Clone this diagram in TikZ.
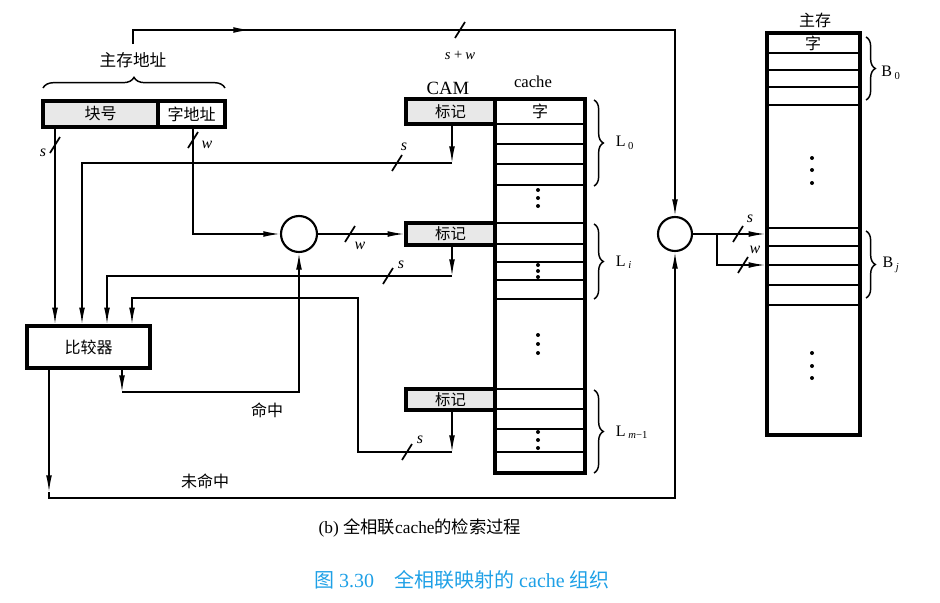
\documentclass[tikz,border=0pt]{standalone}
\usepackage{fontspec}
\setmainfont{Liberation Serif}
\newfontfamily\cjk{Noto Sans CJK SC}
\usetikzlibrary{arrows.meta,decorations.pathreplacing}
\definecolor{capblue}{RGB}{30,160,230}
\newcommand\busmark[2]{\draw[line width=1.3pt] (#1-5,#2+8) -- (#1+5,#2-8);}
\begin{document}
\begin{tikzpicture}[x=0.75pt,y=-0.75pt,line width=1.1pt,
  arr/.style={-{Latex[length=12.5pt,width=4.4pt]}},
  thickbox/.style={draw,line width=2.6pt,inner sep=0pt},
  zh/.style={font=\cjk\fontsize{12}{12}\selectfont},
  tagbox/.style={thickbox,fill=gray!18,minimum width=66.75pt,font=\cjk\fontsize{11.5}{11.5}\selectfont},
  lbl/.style={font=\fontsize{12}{12}\selectfont\itshape},
  brlbl/.style={font=\fontsize{12}{12}\selectfont},
  br/.style={decorate,decoration={brace,amplitude=7pt},line width=1.1pt},
  dot/.style={fill=black}]
\useasboundingbox (0,0) rectangle (940,603);

% address register
\node[thickbox,fill=gray!18,minimum width=86.25pt,minimum height=19.5pt,zh] (blk) at (100.5,114) {块号};
\node[thickbox,minimum width=50.25pt,minimum height=19.5pt,zh] (wd) at (191.5,114) {字地址};
\draw[br,decoration={amplitude=8pt}] (43,88) -- (225,88);
\node[font=\cjk\fontsize{12.5}{12.5}\selectfont] (ma) at (133,60) {主存地址};

% comparator and circles
\node[thickbox,minimum width=92.25pt,minimum height=31.5pt,zh] (cmp) at (88.5,347) {比较器};
\node[draw,circle,line width=1.6pt,minimum size=27pt,inner sep=0pt] (c1) at (299,234) {};
\node[draw,circle,line width=1.6pt,minimum size=25.5pt,inner sep=0pt] (c2) at (675,234) {};

% cache column
\node[thickbox,minimum width=67.5pt,minimum height=280.5pt] (cache) at (540,286) {};
\foreach \y in {124,144,164,185,223,244,262,280,299,389,409,429,452}
  \draw[line width=2pt] (495,\y) -- (585,\y);
\node[zh] (w0) at (540,111.5) {字};
\foreach \y in {190,198,206,265,271,277,335,344,353,432,440,448}
  \fill (538,\y) circle (1.5pt);
\node[tagbox,minimum height=18.75pt] (tag0) at (450.5,111.5) {标记};
\node[tagbox,minimum height=16.5pt] (tagi) at (450.5,234) {标记};
\node[tagbox,minimum height=15.75pt] (tagm) at (450.5,399.5) {标记};
\node[font=\fontsize{14}{14}\selectfont] (cam) at (448,88) {CAM};
\node[font=\fontsize{12.5}{12.5}\selectfont] (cl) at (533,82) {cache};

% cache braces
\draw[br] (594,100) -- (594,186);
\node[brlbl] (l0) at (625,143) {L\,\textsubscript{0}};
\draw[br] (594,224) -- (594,299);
\node[brlbl] (li) at (624,262) {L\,\textsubscript{\textit{i}}};
\draw[br] (594,390) -- (594,473);
\node[brlbl] (lm) at (632,432) {L\,\textsubscript{\textit{m}−1}};

% main memory
\node[thickbox,minimum width=69.75pt,minimum height=301.5pt] (mem) at (813.5,234) {};
\foreach \y in {53,70,87,105,228,246,265,285,305}
  \draw[line width=2pt] (767,\y) -- (860,\y);
\node[zh] (mw0) at (813,43) {字};
\node[zh] (mt) at (815,20) {主存};
\foreach \y in {158,170,183,353,366,378}
  \fill (812,\y) circle (1.5pt);
\draw[br] (866,37) -- (866,100);
\node[brlbl] (b0) at (891,73) {B\,\textsubscript{0}};
\draw[br] (866,231) -- (866,298);
\node[brlbl] (bj) at (891,265) {B\,\textsubscript{\textit{j}}};

% helper coordinates
\coordinate (xA) at (55,0);
\coordinate (xB) at (82,0);
\coordinate (xC) at (107,0);
\coordinate (xD) at (132,0);
\coordinate (xT) at (452,0);
\coordinate (xW) at (193,0);
\coordinate (xH) at (122,0);
\coordinate (xM) at (49,0);
\coordinate (xR) at (358,0);
\coordinate (xJ) at (717,0);
\coordinate (y2) at (0,163);
\coordinate (y3) at (0,276);
\coordinate (y4) at (0,452);
\coordinate (y4b) at (0,298);
\coordinate (yH) at (0,392);
\coordinate (yMa) at (0,492);
\coordinate (yM) at (0,498);
\coordinate (yJ) at (0,265);
\coordinate (tp) at (133,44);
\coordinate (tc) at (133,30);
\coordinate (tr) at (675,30);

% top s+w line
\draw[arr] (tp) -- (tc) -- (tr) -- (c2.north);
\draw[arr] (tc) -- (250,30);
\busmark{460}{30}
\node[lbl,font=\fontsize{11}{11}\selectfont\itshape] (sw) at (460,55) {s\,+\,w};

% block number to comparator
\draw[arr] (blk.south -| xA) -- (cmp.north -| xA);
\busmark{55}{145}
\node[lbl] (s1) at (43,153) {s};

% tag outputs to comparator
\draw[arr] (tag0.south -| xT) -- (xT |- y2);
\draw[arr] (xT |- y2) -- (xB |- y2) -- (cmp.north -| xB);
\busmark{397}{163}
\node[lbl] (s2) at (404,147) {s};

\draw[arr] (tagi.south -| xT) -- (xT |- y3);
\draw[arr] (xT |- y3) -- (xC |- y3) -- (cmp.north -| xC);
\busmark{388}{276}
\node[lbl] (s3) at (401,265) {s};

\draw[arr] (tagm.south -| xT) -- (xT |- y4);
\draw[arr] (xT |- y4) -- (xR |- y4) -- (xR |- y4b) -- (xD |- y4b) -- (cmp.north -| xD);
\busmark{407}{452}
\node[lbl] (s4) at (420,440) {s};

% word address to circle 1
\draw[arr] (wd.south -| xW) -- (xW |- c1) -- (c1.west);
\busmark{193}{140}
\node[lbl] (w1) at (207,145) {w};
\draw[arr] (c1.east) -- (tagi.west);
\busmark{350}{234}
\node[lbl] (w2) at (360,246) {w};

% hit
\draw[arr] (cmp.south -| xH) -- (xH |- yH);
\draw[arr] (xH |- yH) -- (c1 |- yH) -- (c1.south);
\node[zh] (hit) at (267,410) {命中};

% miss
\draw[arr] (cmp.south -| xM) -- (xM |- yMa);
\draw[arr] (xM |- yMa) -- (xM |- yM) -- (c2 |- yM) -- (c2.south);
\node[zh] (miss) at (205,481) {未命中};

% circle 2 to memory
\draw[arr] (c2.east) -- (mem.west |- c2);
\draw[arr] (xJ |- c2) -- (xJ |- yJ) -- (mem.west |- yJ);
\busmark{738}{234}
\node[lbl] (s5) at (750,219) {s};
\busmark{743}{265}
\node[lbl] (w3) at (755,250) {w};

% captions
\node[font=\fontsize{13}{13}\selectfont] (capb) at (420,528) {(b) {\cjk 全相联}cache{\cjk 的检索过程}};
\node[font=\fontsize{15}{15}\selectfont,text=capblue] (capf) at (462,580) {{\cjk 图} 3.30\quad{\cjk 全相联映射的} cache {\cjk 组织}};
\end{tikzpicture}
\end{document}
